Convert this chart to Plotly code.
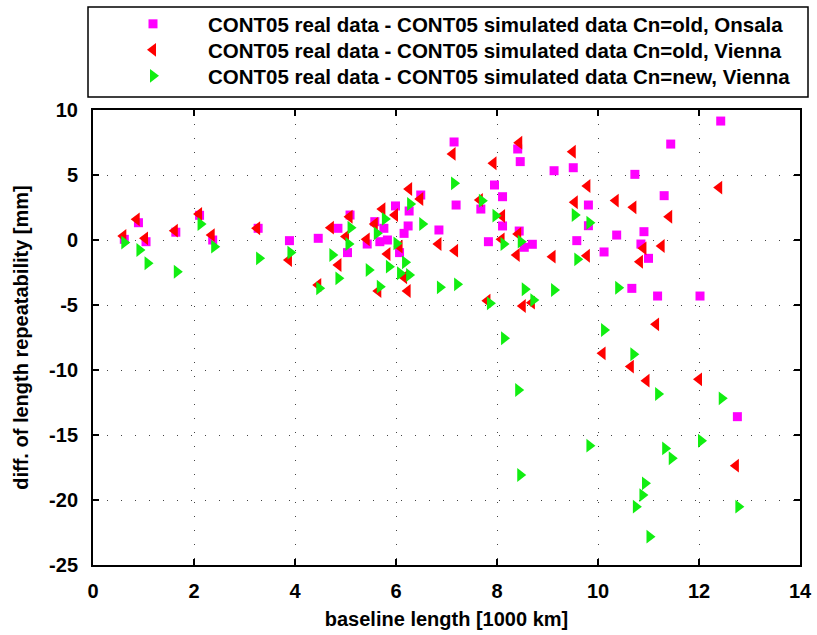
import plotly.graph_objects as go

# Onsala, Cn=old (magenta squares)
ons_x = [0.90, 0.62, 1.05, 1.64, 2.11, 2.37, 3.27, 3.89, 4.46, 4.85, 5.04, 5.09, 5.43, 5.58,
         5.76, 5.68, 5.83, 5.99, 6.26, 6.24, 6.16, 6.07, 6.49, 6.85, 7.15, 7.19, 7.68, 7.83,
         7.95, 8.11, 8.11, 8.41, 8.46, 8.44, 8.54, 8.70, 9.13, 9.51, 9.58, 9.81, 9.81, 10.12,
         10.37, 10.73, 10.67, 10.85, 10.91, 11.00, 11.18, 11.31, 11.44, 12.02, 12.43, 12.76]
ons_y = [1.33, 0.05, -0.13, 0.60, 1.90, 0.00, 0.90, -0.05, 0.13, 0.90, -0.97, 1.92, -0.31, 1.41,
         0.90, -0.13, 0.00, 2.62, 2.23, 1.08, 0.51, -0.97, 3.46, 0.77, 7.54, 2.69, 2.38, -0.13,
         4.23, 3.33, 1.08, 7.00, 6.03, 0.69, -0.56, -0.33, 5.33, 5.56, -0.05, 2.69, 1.10, -0.92,
         0.38, 5.05, -3.72, -0.31, 0.64, -1.41, -4.31, 3.41, 7.38, -4.31, 9.15, -13.59]

# Vienna, Cn=old (red left triangles)
vold_x = [0.865, 0.60, 1.03, 1.62, 2.10, 2.35, 3.25, 3.88, 4.46, 4.71, 4.86, 5.01, 5.08, 5.42,
          5.58, 5.73, 5.65, 5.83, 5.98, 6.07, 6.16, 6.23, 6.26, 6.48, 6.84, 7.12, 7.17, 7.66,
          7.81, 7.93, 8.09, 8.10, 8.39, 8.42, 8.44, 8.51, 8.69, 9.10, 9.50, 9.54, 9.78, 9.79,
          10.09, 10.35, 10.65, 10.70, 10.83, 10.90, 10.96, 11.15, 11.26, 11.41, 12.00, 12.40, 12.73]
vold_y = [1.59, 0.31, 0.13, 0.72, 2.00, 0.38, 0.90, -1.54, -3.46, 0.95, -1.92, 0.26, 1.79, 0.05,
          1.23, 2.38, -3.92, -1.08, 1.92, -0.51, -2.87, -3.92, 3.92, 3.15, -0.31, 6.62, -0.82, 3.08,
          -4.67, 5.90, 0.05, 1.85, -1.15, 0.46, 7.49, -5.08, -4.82, -1.28, 6.79, 2.90, -1.21, 4.15,
          -8.72, 3.03, -9.74, 2.51, -1.67, -0.64, -10.82, -6.49, -0.46, 1.79, -10.72, 4.03, -17.36]

# Vienna, Cn=new (green right triangles)
vnew_x = [0.62, 0.92, 1.08, 1.66, 2.13, 2.40, 3.29, 3.91, 4.48, 4.74, 4.86, 5.06, 5.10, 5.46,
          5.62, 5.78, 5.68, 5.86, 6.01, 6.08, 6.18, 6.26, 6.28, 6.52, 6.87, 7.15, 7.21, 7.70,
          7.86, 7.97, 8.13, 8.14, 8.47, 8.42, 8.46, 8.55, 8.72, 9.13, 9.54, 9.59, 9.83, 9.83,
          10.12, 10.40, 10.70, 10.75, 10.88, 10.93, 11.02, 11.19, 11.33, 11.46, 12.04, 12.45, 12.78]
vnew_y = [-0.20, -0.77, -1.79, -2.44, 1.23, -0.51, -1.41, -0.97, -3.72, -1.15, -2.95, -0.31, 0.95, -2.31,
          0.51, 1.62, -3.59, -2.05, -0.26, -2.56, -1.72, -2.69, 2.77, 1.23, -3.64, 4.36, -3.41, 3.02,
          -4.87, 1.87, -0.31, -7.56, -0.13, -11.54, -18.08, -3.79, -4.62, -3.85, 1.92, -1.49, 1.33, -15.82,
          -6.92, -3.67, -8.79, -20.51, -19.62, -18.72, -22.82, -11.85, -16.03, -16.79, -15.44, -12.18, -20.51]

names = ["CONT05 real data - CONT05 simulated data Cn=old, Onsala",
         "CONT05 real data - CONT05 simulated data Cn=old, Vienna",
         "CONT05 real data - CONT05 simulated data Cn=new, Vienna"]

x_ticks = [0, 2, 4, 6, 8, 10, 12, 14]
y_ticks = [10, 5, 0, -5, -10, -15, -20, -25]

FONT = "Liberation Sans, Arial, sans-serif"
PW, PH = 707, 455  # plot area size in px

fig = go.Figure()
fig.add_trace(go.Scatter(x=ons_x, y=ons_y, mode="markers", name=names[0], legend="legend",
                         marker=dict(symbol="square", size=9, color="#ff00ff", line=dict(width=0))))
fig.add_trace(go.Scatter(x=vold_x, y=vold_y, mode="markers", name=names[1], legend="legend2",
                         marker=dict(symbol="triangle-left", size=12, color="#ff0000", line=dict(width=0))))
fig.add_trace(go.Scatter(x=vnew_x, y=vnew_y, mode="markers", name=names[2], legend="legend3",
                         marker=dict(symbol="triangle-right", size=12, color="#11ee11", line=dict(width=0))))

axis_common = dict(showline=True, linecolor="black", linewidth=2, mirror="ticks",
                   ticks="inside", ticklen=6, tickwidth=1.5, tickcolor="black",
                   showgrid=True, gridcolor="#444444", griddash="1px,13px", gridwidth=1,
                   zeroline=False, automargin=False,
                   tickfont=dict(family=FONT, size=20, color="black", weight="bold"))

fig.update_xaxes(range=[0, 14], tickvals=x_ticks, ticktext=[str(v) for v in x_ticks],
                 ticklabelstandoff=7,
                 title=dict(text="<b>baseline length [1000 km]</b>",
                            font=dict(family=FONT, size=20, color="black"), standoff=11),
                 **axis_common)
fig.update_yaxes(range=[-25, 10], tickvals=y_ticks, ticktext=[str(v) for v in y_ticks],
                 ticklabelstandoff=9,
                 title=dict(text="<b>diff. of length repeatability [mm]</b>",
                            font=dict(family=FONT, size=20, color="black"), standoff=15),
                 **axis_common)

# legend frame
fig.add_shape(type="rect", xref="paper", yref="paper",
              x0=-5 / PW, x1=715 / PW, y0=1 + 13 / PH, y1=1 + 103 / PH,
              line=dict(color="black", width=1.5), fillcolor="rgba(0,0,0,0)")


def leg(top_px):
    return dict(x=5 / PW, y=1 + (110 - top_px) / PH, xanchor="left", yanchor="top",
                bgcolor="rgba(0,0,0,0)", borderwidth=0,
                font=dict(family=FONT, size=20.5, color="black", weight="bold"),
                itemwidth=100)


fig.update_layout(
    width=817, height=635,
    margin=dict(l=93, r=17, t=110, b=70, autoexpand=False),
    paper_bgcolor="white", plot_bgcolor="white",
    font=dict(family=FONT, color="black"),
    legend=leg(4), legend2=leg(30), legend3=leg(56),
    showlegend=True,
)

fig.write_html("out.html", config={"displayModeBar": False},
               post_script="document.body.style.margin='0';document.body.style.overflow='hidden';")
